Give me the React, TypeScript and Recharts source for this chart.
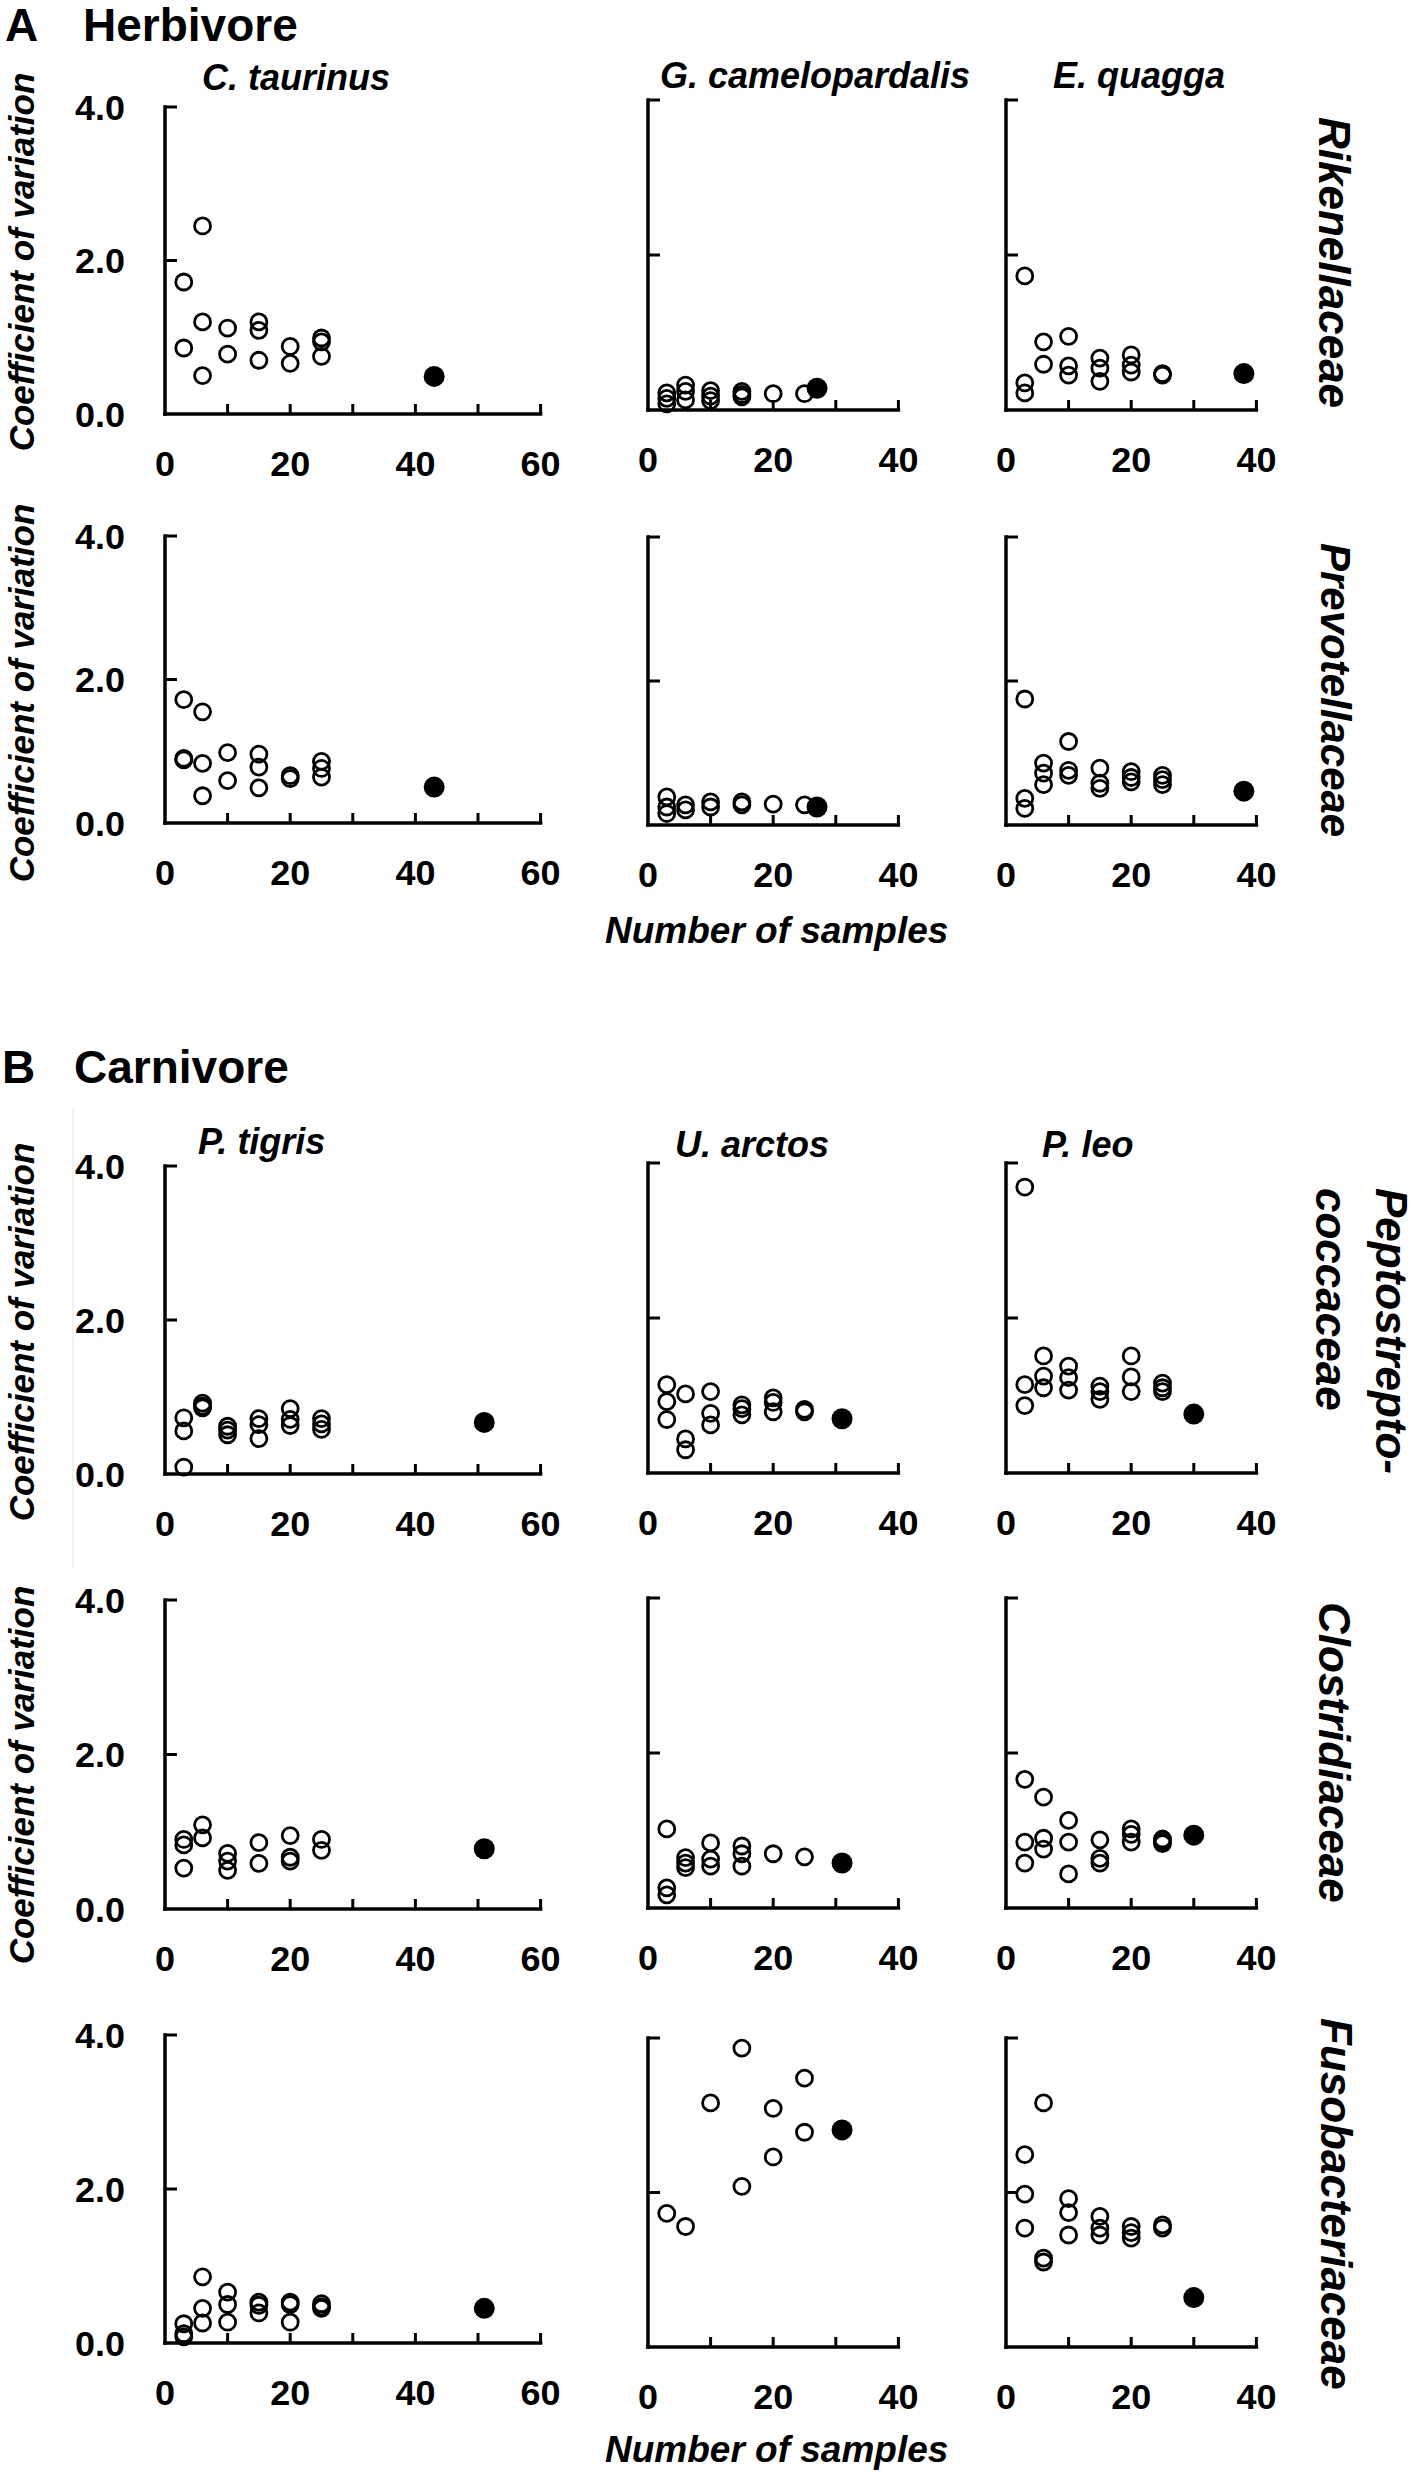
import { Scatter, ScatterChart, XAxis, YAxis } from "recharts";

type Pair = [number, number];
type Pt = { x: number; y: number };

// ---- data: [number of samples, coefficient of variation] ----
// A Herbivore, Rikenellaceae
const ctRikOpen: Pair[] = [[3, 1.72], [3, 0.86], [6, 2.45], [6, 1.2], [6, 0.5], [10, 1.12], [10, 0.78], [15, 1.2], [15, 1.09], [15, 0.7], [20, 0.88], [20, 0.66], [25, 0.99], [25, 0.94], [25, 0.75]];
const ctRikAll: Pair[] = [[43, 0.49]];
const gcRikOpen: Pair[] = [[3, 0.22], [3, 0.15], [3, 0.08], [6, 0.32], [6, 0.24], [6, 0.13], [10, 0.25], [10, 0.18], [10, 0.12], [15, 0.24], [15, 0.2], [15, 0.17], [20, 0.21], [25, 0.21]];
const gcRikAll: Pair[] = [[27, 0.28]];
const eqRikOpen: Pair[] = [[3, 1.73], [3, 0.35], [3, 0.22], [6, 0.88], [6, 0.59], [10, 0.95], [10, 0.57], [10, 0.45], [15, 0.67], [15, 0.54], [15, 0.37], [20, 0.71], [20, 0.58], [20, 0.49], [25, 0.47], [25, 0.45]];
const eqRikAll: Pair[] = [[38, 0.47]];

// A Herbivore, Prevotellaceae
const ctPrevOpen: Pair[] = [[3, 1.72], [3, 0.9], [3, 0.88], [6, 1.55], [6, 0.83], [6, 0.38], [10, 0.98], [10, 0.59], [15, 0.96], [15, 0.78], [15, 0.49], [20, 0.66], [20, 0.62], [25, 0.86], [25, 0.76], [25, 0.64]];
const ctPrevAll: Pair[] = [[43, 0.5]];
const gcPrevOpen: Pair[] = [[3, 0.39], [3, 0.25], [3, 0.16], [6, 0.28], [6, 0.21], [10, 0.32], [10, 0.25], [15, 0.32], [15, 0.28], [20, 0.29], [25, 0.28]];
const gcPrevAll: Pair[] = [[27, 0.25]];
const eqPrevOpen: Pair[] = [[3, 1.75], [3, 0.37], [3, 0.23], [6, 0.86], [6, 0.72], [6, 0.56], [10, 1.16], [10, 0.76], [10, 0.69], [15, 0.79], [15, 0.58], [15, 0.51], [20, 0.74], [20, 0.66], [20, 0.6], [25, 0.69], [25, 0.63], [25, 0.56]];
const eqPrevAll: Pair[] = [[38, 0.47]];

// B Carnivore, Peptostreptococcaceae
const ptPepOpen: Pair[] = [[3, 0.73], [3, 0.56], [3, 0.09], [6, 0.92], [6, 0.88], [6, 0.86], [10, 0.62], [10, 0.57], [10, 0.51], [15, 0.72], [15, 0.64], [15, 0.46], [20, 0.85], [20, 0.71], [20, 0.63], [25, 0.72], [25, 0.65], [25, 0.58]];
const ptPepAll: Pair[] = [[51, 0.67]];
const uaPepOpen: Pair[] = [[3, 1.14], [3, 0.92], [3, 0.69], [6, 1.02], [6, 0.44], [6, 0.3], [10, 1.05], [10, 0.77], [10, 0.62], [15, 0.88], [15, 0.83], [15, 0.75], [20, 0.97], [20, 0.91], [20, 0.79], [25, 0.82], [25, 0.79]];
const uaPepAll: Pair[] = [[31, 0.7]];
const plPepOpen: Pair[] = [[3, 3.69], [3, 1.14], [3, 0.87], [6, 1.51], [6, 1.25], [6, 1.1], [10, 1.38], [10, 1.23], [10, 1.07], [15, 1.12], [15, 1.05], [15, 0.95], [20, 1.51], [20, 1.24], [20, 1.05], [25, 1.16], [25, 1.1], [25, 1.05]];
const plPepAll: Pair[] = [[30, 0.76]];

// B Carnivore, Clostridiaceae
const ptCloOpen: Pair[] = [[3, 0.9], [3, 0.83], [3, 0.53], [6, 1.09], [6, 0.92], [10, 0.72], [10, 0.62], [10, 0.5], [15, 0.86], [15, 0.59], [20, 0.95], [20, 0.67], [20, 0.62], [25, 0.9], [25, 0.76]];
const ptCloAll: Pair[] = [[51, 0.78]];
const uaCloOpen: Pair[] = [[3, 1.02], [3, 0.26], [3, 0.17], [6, 0.65], [6, 0.58], [6, 0.52], [10, 0.84], [10, 0.63], [10, 0.54], [15, 0.8], [15, 0.7], [15, 0.54], [20, 0.7], [25, 0.66]];
const uaCloAll: Pair[] = [[31, 0.58]];
const plCloOpen: Pair[] = [[3, 1.66], [3, 0.85], [3, 0.58], [6, 1.43], [6, 0.9], [6, 0.76], [10, 1.13], [10, 0.85], [10, 0.44], [15, 0.88], [15, 0.64], [15, 0.58], [20, 1.02], [20, 0.95], [20, 0.85], [25, 0.89], [25, 0.86], [25, 0.83]];
const plCloAll: Pair[] = [[30, 0.94]];

// B Carnivore, Fusobacteriaceae
const ptFusOpen: Pair[] = [[3, 0.25], [3, 0.12], [3, 0.08], [6, 0.86], [6, 0.45], [6, 0.26], [10, 0.66], [10, 0.5], [10, 0.27], [15, 0.53], [15, 0.49], [15, 0.39], [20, 0.53], [20, 0.5], [20, 0.27], [25, 0.51], [25, 0.47], [25, 0.45]];
const ptFusAll: Pair[] = [[51, 0.45]];
const uaFusOpen: Pair[] = [[3, 1.73], [6, 1.56], [10, 3.16], [15, 3.87], [15, 2.08], [20, 3.09], [20, 2.46], [25, 3.48], [25, 2.78]];
const uaFusAll: Pair[] = [[31, 2.81]];
const plFusOpen: Pair[] = [[3, 2.49], [3, 1.98], [3, 1.54], [6, 3.16], [6, 1.15], [6, 1.1], [10, 1.92], [10, 1.74], [10, 1.45], [15, 1.69], [15, 1.54], [15, 1.45], [20, 1.56], [20, 1.48], [20, 1.41], [25, 1.58], [25, 1.54]];
const plFusAll: Pair[] = [[30, 0.64]];

const xTicksWide = [0, 10, 20, 30, 40, 50, 60];
const xTicksNarrow = [0, 10, 20, 30, 40];
const yTicks = [0, 2, 4];

// ---- layout ----
const ARIAL = "'Liberation Sans', Arial, Helvetica, sans-serif";
const COL_LEFT = [165, 648, 1006];
const COL_XMAX = [60, 40, 40];
const UNIT_PX = 6.26;
const ROW_TOP = [
  [107, 100, 100],
  [536, 537, 537],
  [1166, 1163, 1163],
  [1600, 1598, 1598],
  [2035, 2038, 2038],
];
const ROW_BOTTOM = [
  [414, 410, 410],
  [823, 825, 825],
  [1474, 1473, 1473],
  [1909, 1908, 1908],
  [2343, 2347, 2347],
];
const PAD_L = 110;
const PAD_R = 20;
const PAD_T = 20;
const PAD_B = 75;

const toPts = (list: Pair[]): Pt[] => list.map(([x, y]) => ({ x, y }));

function OpenDot(props: any) {
  const { cx, cy } = props;
  if (cx == null || cy == null) return <g />;
  return <circle cx={cx} cy={cy} r={8} fill="none" stroke="#000" strokeWidth={2.8} />;
}

function FilledDot(props: any) {
  const { cx, cy } = props;
  if (cx == null || cy == null) return <g />;
  return <circle cx={cx} cy={cy} r={10.5} fill="#000" />;
}

function renderXTick(props: any) {
  const { x, y, payload } = props;
  const v = payload.value as number;
  return (
    <g>
      {v !== 0 && <line x1={x} y1={y} x2={x} y2={y - 10} stroke="#000" strokeWidth={3} />}
      {v % 20 === 0 && (
        <text x={x} y={y + 62} textAnchor="middle" fontFamily={ARIAL} fontWeight={700} fontSize={36} fill="#000">
          {v}
        </text>
      )}
    </g>
  );
}

function makeYTick(showLabel: boolean) {
  return (props: any) => {
    const { x, y, payload } = props;
    const v = payload.value as number;
    return (
      <g>
        {v !== 0 && <line x1={x} y1={y} x2={x + 12} y2={y} stroke="#000" strokeWidth={3} />}
        {showLabel && (
          <text x={x - 40} y={y + 13} textAnchor="end" fontFamily={ARIAL} fontWeight={700} fontSize={36} fill="#000">
            {v.toFixed(1)}
          </text>
        )}
      </g>
    );
  };
}

type PanelProps = { row: number; col: number; open: Pair[]; full: Pair[] };

function Panel({ row, col, open, full }: PanelProps) {
  const xMax = COL_XMAX[col];
  const plotW = xMax * UNIT_PX;
  const top = ROW_TOP[row][col];
  const plotH = ROW_BOTTOM[row][col] - top;
  const left = COL_LEFT[col];
  return (
    <div style={{ position: "absolute", left: left - PAD_L, top: top - PAD_T }}>
      <ScatterChart
        width={PAD_L + plotW + PAD_R}
        height={PAD_T + plotH + PAD_B}
        margin={{ top: PAD_T, right: PAD_R, left: 0, bottom: 0 }}
      >
        <XAxis
          type="number"
          dataKey="x"
          domain={[0, xMax]}
          ticks={xMax === 60 ? xTicksWide : xTicksNarrow}
          interval={0}
          height={PAD_B}
          tickLine={false}
          tickSize={0}
          tickMargin={0}
          axisLine={{ stroke: "#000", strokeWidth: 3.5, strokeLinecap: "square" }}
          tick={renderXTick}
        />
        <YAxis
          type="number"
          dataKey="y"
          domain={[0, 4]}
          ticks={yTicks}
          interval={0}
          width={PAD_L}
          tickLine={false}
          tickSize={0}
          tickMargin={0}
          axisLine={{ stroke: "#000", strokeWidth: 3.5, strokeLinecap: "square" }}
          tick={makeYTick(col === 0)}
        />
        <Scatter data={toPts(open)} shape={OpenDot} isAnimationActive={false} />
        <Scatter data={toPts(full)} shape={FilledDot} isAnimationActive={false} />
      </ScatterChart>
    </div>
  );
}

const panels: PanelProps[] = [
  { row: 0, col: 0, open: ctRikOpen, full: ctRikAll },
  { row: 0, col: 1, open: gcRikOpen, full: gcRikAll },
  { row: 0, col: 2, open: eqRikOpen, full: eqRikAll },
  { row: 1, col: 0, open: ctPrevOpen, full: ctPrevAll },
  { row: 1, col: 1, open: gcPrevOpen, full: gcPrevAll },
  { row: 1, col: 2, open: eqPrevOpen, full: eqPrevAll },
  { row: 2, col: 0, open: ptPepOpen, full: ptPepAll },
  { row: 2, col: 1, open: uaPepOpen, full: uaPepAll },
  { row: 2, col: 2, open: plPepOpen, full: plPepAll },
  { row: 3, col: 0, open: ptCloOpen, full: ptCloAll },
  { row: 3, col: 1, open: uaCloOpen, full: uaCloAll },
  { row: 3, col: 2, open: plCloOpen, full: plCloAll },
  { row: 4, col: 0, open: ptFusOpen, full: ptFusAll },
  { row: 4, col: 1, open: uaFusOpen, full: uaFusAll },
  { row: 4, col: 2, open: plFusOpen, full: plFusAll },
];

const bold = { fontFamily: ARIAL, fontWeight: 700, fill: "#000" } as const;
const boldItalic = { ...bold, fontStyle: "italic" } as const;

function Labels() {
  return (
    <svg width={1416} height={2479} style={{ position: "absolute", left: 0, top: 0, pointerEvents: "none" }}>
      <line x1={73} y1={1108} x2={73} y2={1567} stroke="#ececec" strokeWidth={1.5} />

      <text x={5} y={41} fontSize={46} {...bold}>A</text>
      <text x={83} y={41} fontSize={46} {...bold}>Herbivore</text>
      <text x={2} y={1083} fontSize={46} {...bold}>B</text>
      <text x={74} y={1083} fontSize={46} {...bold}>Carnivore</text>

      <text x={202} y={90} fontSize={36} {...boldItalic}>C. taurinus</text>
      <text x={660} y={88} fontSize={36} {...boldItalic}>G. camelopardalis</text>
      <text x={1053} y={88} fontSize={36} {...boldItalic}>E. quagga</text>
      <text x={198} y={1154} fontSize={36} {...boldItalic}>P. tigris</text>
      <text x={675} y={1157} fontSize={36} {...boldItalic}>U. arctos</text>
      <text x={1042} y={1157} fontSize={36} {...boldItalic}>P. leo</text>

      <text transform="translate(34,262) rotate(-90)" textAnchor="middle" fontSize={35} {...boldItalic}>Coefficient of variation</text>
      <text transform="translate(34,693) rotate(-90)" textAnchor="middle" fontSize={35} {...boldItalic}>Coefficient of variation</text>
      <text transform="translate(34,1332) rotate(-90)" textAnchor="middle" fontSize={35} {...boldItalic}>Coefficient of variation</text>
      <text transform="translate(34,1775) rotate(-90)" textAnchor="middle" fontSize={35} {...boldItalic}>Coefficient of variation</text>

      <text transform="translate(1319,117) rotate(90)" fontSize={44} {...boldItalic}>Rikenellaceae</text>
      <text transform="translate(1321,543) rotate(90)" fontSize={42} {...boldItalic}>Prevotellaceae</text>
      <text transform="translate(1376,1188) rotate(90)" fontSize={44} {...boldItalic}>Peptostrepto-</text>
      <text transform="translate(1316,1188) rotate(90)" fontSize={44} {...boldItalic}>coccaceae</text>
      <text transform="translate(1319,1602) rotate(90)" fontSize={44} {...boldItalic}>Clostridiaceae</text>
      <text transform="translate(1321,2018) rotate(90)" fontSize={44} {...boldItalic}>Fusobacteriaceae</text>

      <text x={605} y={943} fontSize={37} {...boldItalic}>Number of samples</text>
      <text x={605} y={2462} fontSize={37} {...boldItalic}>Number of samples</text>
    </svg>
  );
}

export default function App() {
  return (
    <div style={{ position: "absolute", left: 0, top: 0, width: 1416, height: 2479, background: "#fff" }}>
      {panels.map((p) => (
        <Panel key={`${p.row}-${p.col}`} {...p} />
      ))}
      <Labels />
    </div>
  );
}
